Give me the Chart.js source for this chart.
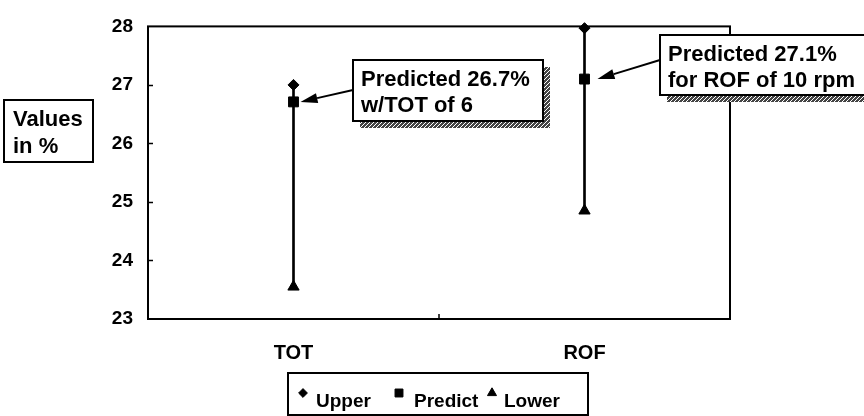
<!DOCTYPE html>
<html>
<head>
<meta charset="utf-8">
<script src="https://cdn.jsdelivr.net/npm/chart.js@4"></script>
<style>
  html, body { margin: 0; padding: 0; background: #fff; }
</style>
</head>
<body>
<canvas id="myChart" width="864" height="416"></canvas>
<script>
// data
const categories = ['TOT', 'ROF'];
const upper = [27.0, 27.97];
const predict = [26.71, 27.1];
const lower = [23.55, 24.85];
const yTicks = [23, 24, 25, 26, 27, 28];
const seriesNames = ['Upper', 'Predict', 'Lower'];
const noteTot = ['Predicted 26.7%', 'w/TOT of 6'];
const noteRof = ['Predicted 27.1%', 'for ROF of 10 rpm'];
const axisTitle = ['Values', 'in %'];

const FONT = "'Liberation Sans', Arial, sans-serif";
const styles = ['rectRot', 'rect', 'triangle'];
const radii = [5.5, 7, 6.5];

// diagonal hatch used for the note shadows
const hatchCanvas = document.createElement('canvas');
hatchCanvas.width = 4;
hatchCanvas.height = 4;
const hc = hatchCanvas.getContext('2d');
hc.fillStyle = '#444';
hc.fillRect(0, 0, 4, 4);
hc.strokeStyle = '#fff';
hc.lineWidth = 1;
hc.beginPath();
hc.moveTo(0, 4); hc.lineTo(4, 0);
hc.stroke();

function marker(ctx, style, r, x, y) {
  if (Chart.helpers && Chart.helpers.drawPoint) {
    ctx.fillStyle = '#000';
    ctx.strokeStyle = '#000';
    ctx.lineWidth = 1;
    Chart.helpers.drawPoint(ctx, {pointStyle: style, radius: r, rotation: 0, borderWidth: 1}, x, y);
  }
}

function arrow(ctx, x1, y1, x2, y2) {
  const a = Math.atan2(y2 - y1, x2 - x1);
  const len = 17, half = 5;
  const bx = x2 - Math.cos(a) * len, by = y2 - Math.sin(a) * len;
  ctx.strokeStyle = '#000';
  ctx.lineWidth = 2;
  ctx.beginPath();
  ctx.moveTo(x1, y1);
  ctx.lineTo(bx, by);
  ctx.stroke();
  ctx.fillStyle = '#000';
  ctx.beginPath();
  ctx.moveTo(x2, y2);
  ctx.lineTo(bx - Math.sin(a) * half, by + Math.cos(a) * half);
  ctx.lineTo(bx + Math.sin(a) * half, by - Math.cos(a) * half);
  ctx.closePath();
  ctx.fill();
}

function noteBox(ctx, box, lines, from, tip) {
  ctx.fillStyle = ctx.createPattern(hatchCanvas, 'repeat');
  ctx.fillRect(box.x + 7, box.y + 7, box.w, box.h);
  ctx.fillStyle = '#fff';
  ctx.fillRect(box.x, box.y, box.w, box.h);
  ctx.strokeStyle = '#000';
  ctx.lineWidth = 2;
  ctx.strokeRect(box.x, box.y, box.w, box.h);
  ctx.fillStyle = '#000';
  ctx.font = 'bold 22px ' + FONT;
  ctx.textAlign = 'left';
  ctx.textBaseline = 'alphabetic';
  lines.forEach((t, i) => ctx.fillText(t, box.x + 8, box.y + 26 + i * 26));
  arrow(ctx, from[0], from[1], tip[0], tip[1]);
}

const extras = {
  id: 'extras',
  afterDraw(chart) {
    const ctx = chart.ctx;
    const area = chart.chartArea;
    const x = chart.scales.x, y = chart.scales.y;
    ctx.save();

    // frame + small inside ticks
    ctx.strokeStyle = '#000';
    ctx.lineWidth = 2;
    ctx.strokeRect(area.left, area.top, area.right - area.left, area.bottom - area.top);
    ctx.lineWidth = 1.5;
    ctx.beginPath();
    yTicks.slice(1, -1).forEach(v => {
      const py = Math.round(y.getPixelForValue(v)) + 0.5;
      ctx.moveTo(area.left, py);
      ctx.lineTo(area.left + 5, py);
    });
    const mid = (x.getPixelForValue(0) + x.getPixelForValue(1)) / 2;
    ctx.moveTo(mid, area.bottom);
    ctx.lineTo(mid, area.bottom - 5);
    ctx.stroke();

    // notes pointing at the predicted values
    const p0 = [x.getPixelForValue(0), y.getPixelForValue(predict[0])];
    const p1 = [x.getPixelForValue(1), y.getPixelForValue(predict[1])];
    noteBox(ctx, {x: 353, y: 60, w: 190, h: 61}, noteTot, [353, 90], [p0[0] + 7, p0[1]]);
    noteBox(ctx, {x: 660, y: 35, w: 210, h: 60}, noteRof, [660, 60], [p1[0] + 13, p1[1]]);

    // y axis title box
    ctx.lineWidth = 2;
    ctx.strokeRect(4, 100, 89, 62);
    ctx.fillStyle = '#000';
    ctx.font = 'bold 22px ' + FONT;
    ctx.textAlign = 'left';
    ctx.fillText(axisTitle[0], 13, 126);
    ctx.fillText(axisTitle[1], 13, 153);

    // legend
    ctx.strokeRect(288, 373, 300, 42);
    const items = [[303, 316], [399, 414], [492, 504]];
    ctx.font = 'bold 19px ' + FONT;
    seriesNames.forEach((name, i) => {
      marker(ctx, styles[i], radii[i] * 0.8, items[i][0], 393);
      ctx.fillStyle = '#000';
      ctx.fillText(name, items[i][1], 407);
    });
    ctx.restore();
  }
};

const ctx = document.querySelector('#myChart').getContext('2d');
const myChart = new Chart(ctx, {
  data: {
    labels: categories,
    datasets: [
      {
        type: 'line', label: seriesNames[0], data: upper, showLine: false, clip: false,
        pointStyle: styles[0], pointRadius: radii[0],
        backgroundColor: '#000', borderColor: '#000', order: 1
      },
      {
        type: 'line', label: seriesNames[1], data: predict, showLine: false, clip: false,
        pointStyle: styles[1], pointRadius: radii[1],
        backgroundColor: '#000', borderColor: '#000', order: 1
      },
      {
        type: 'line', label: seriesNames[2], data: lower, showLine: false, clip: false,
        pointStyle: styles[2], pointRadius: radii[2],
        backgroundColor: '#000', borderColor: '#000', order: 1
      },
      {
        type: 'bar', label: 'range', data: lower.map((v, i) => [v, upper[i]]),
        barThickness: 2, backgroundColor: '#000', order: 2
      }
    ]
  },
  options: {
    responsive: false,
    animation: false,
    devicePixelRatio: 1,
    layout: { padding: { left: 0, right: 134, top: 20, bottom: 0 } },
    plugins: { legend: { display: false }, tooltip: { enabled: false } },
    scales: {
      x: {
        type: 'category', offset: true,
        grid: { display: false, drawTicks: false }, border: { display: false },
        ticks: { color: '#000', padding: 22, font: { family: FONT, size: 20, weight: 'bold' } },
        afterFit: s => { s.height = 97; }
      },
      y: {
        min: 23, max: 28,
        grid: { display: false, drawTicks: false }, border: { display: false },
        ticks: { stepSize: 1, color: '#000', padding: 15, font: { family: FONT, size: 19, weight: 'bold' } },
        afterFit: s => { s.width = 148; }
      }
    }
  },
  plugins: [extras]
});
</script>
</body>
</html>
